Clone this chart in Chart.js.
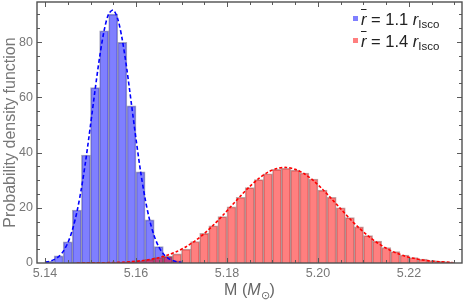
<!DOCTYPE html>
<html><head><meta charset="utf-8">
<script src="https://cdn.jsdelivr.net/npm/chart.js@4/dist/chart.umd.min.js"></script>
<style>
html,body{margin:0;padding:0;background:#fff;}
#wrap{position:relative;width:463px;height:304px;font-family:"Liberation Sans",Arial,sans-serif;}
#c{position:absolute;left:0;top:0;}
.leg{position:absolute;left:361px;font-size:16.5px;color:#222;white-space:nowrap;line-height:16px;}
.sw{position:absolute;left:353px;width:5px;height:5px;}
.ol{text-decoration:overline;}
sub{font-size:11.5px;vertical-align:-3px;line-height:0;}
#xt{position:absolute;left:0;width:499px;text-align:center;top:282px;font-size:16px;color:#666;line-height:16px;}
#xt sub{font-size:11px;vertical-align:-4px;}
</style></head>
<body>
<div id="wrap">
<canvas id="c" width="463" height="304"></canvas>
<div class="sw" style="top:16px;background:rgba(0,0,255,0.5)"></div>
<div class="leg" style="top:11px"><span class="ol"><i>r</i></span> = 1.1 <i>r</i><sub>Isco</sub></div>
<div class="sw" style="top:38px;background:rgba(255,0,0,0.5)"></div>
<div class="leg" style="top:33px"><span class="ol"><i>r</i></span> = 1.4 <i>r</i><sub>Isco</sub></div>
<div id="xt">M (<i>M</i><sub>⊙</sub>)</div>
</div>
<script>
// ---- data ----
const blueBinCenters = [5.141,5.143,5.145,5.147,5.149,5.151,5.153,5.155,5.157,5.159,5.161,5.163,5.165,5.167,5.169];
const blueBinValues  = [0.6,2.6,7.7,19.2,39.1,63.5,84.1,90.1,79.9,56.9,33.0,15.6,5.9,2.3,0.8];

const redBinCenters = [5.147,5.149,5.151,5.153,5.155,5.157,5.159,5.161,5.163,5.165,5.167,5.169,5.171,5.173,5.175,5.177,5.179,5.181,5.183,5.185,5.187,5.189,5.191,5.193,5.195,5.197,5.199,5.201,5.203,5.205,5.207,5.209,5.211,5.213,5.215,5.217,5.219,5.221,5.223,5.225,5.227,5.229];
const redBinValues  = [0.02,0.04,0.06,0.1,0.18,0.3,0.5,0.8,1.3,2.0,2.4,3.3,5.0,7.8,10.7,13.5,16.8,20.3,23.8,27.3,30.2,32.3,33.9,34.3,33.6,32.6,30.4,26.4,23.8,20.0,16.4,13.1,9.9,7.9,5.6,4.1,2.9,2.0,1.4,0.9,0.6,0.3];

const blueCurveX = [5.140,5.141,5.142,5.143,5.144,5.145,5.146,5.147,5.148,5.149,5.150,5.151,5.152,5.153,5.154,5.155,5.156,5.157,5.158,5.159,5.160,5.161,5.162,5.163,5.164,5.165,5.166,5.167,5.168,5.169,5.170];
const blueCurveY = [0.28,0.60,1.21,2.31,4.21,7.24,11.85,18.37,27.0,37.7,49.9,62.6,74.5,84.2,90.2,91.6,88.3,80.7,70.0,57.5,44.9,33.2,23.3,15.5,9.8,5.87,3.33,1.79,0.92,0.45,0.20];

const redCurveX = [5.147,5.149,5.151,5.153,5.155,5.157,5.159,5.161,5.163,5.165,5.167,5.169,5.171,5.173,5.175,5.177,5.179,5.181,5.183,5.185,5.187,5.189,5.191,5.193,5.195,5.197,5.199,5.201,5.203,5.205,5.207,5.209,5.211,5.213,5.215,5.217,5.219,5.221,5.223,5.225,5.227,5.2295];
const redCurveY = [0.01,0.03,0.05,0.09,0.16,0.29,0.48,0.79,1.25,1.93,2.89,4.18,5.89,8.03,10.65,13.7,17.1,20.7,24.3,27.7,30.6,32.9,34.2,34.6,33.9,32.3,29.8,26.7,23.2,19.6,16.0,12.7,9.83,7.34,5.33,3.75,2.56,1.70,1.09,0.68,0.41,0.22];

const xTickLabels = [5.14,5.16,5.18,5.20,5.22];
const yTickLabels = [0,20,40,60,80];

const pts = (xs, ys) => xs.map((x,i)=>({x:x,y:ys[i]}));
const zeroPad = s => { s.paddingTop = 0; s.paddingBottom = 0; s.paddingLeft = 0; s.paddingRight = 0; };

const framePlugin = {
  id:'frame',
  afterDraw(chart){
    const {ctx, chartArea:a, scales:{x,y}} = chart;
    ctx.save();
    ctx.strokeStyle = 'rgb(90,90,90)';
    ctx.lineWidth = 1;
    ctx.beginPath();
    for (let v=5.14; v<=5.2316; v+=0.005){
      const px = Math.round(x.getPixelForValue(v))+0.5;
      const major = Math.abs(Math.round(v*50)-v*50)<1e-6;
      const L = major?5:3;
      ctx.moveTo(px,a.bottom); ctx.lineTo(px,a.bottom-L);
      ctx.moveTo(px,a.top); ctx.lineTo(px,a.top+L);
    }
    for (let v=5; v<=94; v+=5){
      const py = Math.round(y.getPixelForValue(v))+0.5;
      const major = v%20===0;
      const L = major?5:3;
      ctx.moveTo(a.left,py); ctx.lineTo(a.left+L,py);
      ctx.moveTo(a.right,py); ctx.lineTo(a.right-L,py);
    }
    ctx.stroke();
    ctx.lineWidth = 1.4;
    ctx.strokeStyle = 'rgb(80,80,80)';
    ctx.strokeRect(a.left, a.top, a.right-a.left, a.bottom-a.top);
    ctx.restore();
  }
};

new Chart(document.getElementById('c'), {
  type:'bar',
  data:{
    datasets:[
      {type:'line', data:pts(blueCurveX,blueCurveY), borderColor:'#0000ff', borderWidth:1.6, borderDash:[4,2.5], pointRadius:0, tension:0.3, fill:false, order:0},
      {type:'line', data:pts(redCurveX,redCurveY), borderColor:'#ff0000', borderWidth:1.6, borderDash:[3,2], pointRadius:0, tension:0.3, fill:false, order:0},
      {type:'bar', data:pts(redBinCenters,redBinValues), backgroundColor:'rgba(255,0,0,0.5)', borderColor:'rgba(110,60,60,0.45)', borderWidth:1, grouped:false, barPercentage:1, categoryPercentage:1, order:1},
      {type:'bar', data:pts(blueBinCenters,blueBinValues), backgroundColor:'rgba(0,0,255,0.5)', borderColor:'rgba(60,60,110,0.45)', borderWidth:1, grouped:false, barPercentage:1, categoryPercentage:1, order:2}
    ]
  },
  options:{
    responsive:false, animation:false, devicePixelRatio:1,
    layout:{padding:{top:2,right:1,left:0,bottom:0}},
    plugins:{legend:{display:false}, tooltip:{enabled:false}},
    scales:{
      x:{type:'linear', min:5.13824, max:5.23165, offset:false,
         grid:{display:false, drawTicks:false, tickLength:0}, border:{display:false},
         afterBuildTicks:s=>{ s.ticks = xTickLabels.map(v=>({value:v})); },
         afterFit:s=>{ s.height = 41; zeroPad(s); },
         ticks:{callback:v=>Number(v).toFixed(2), color:'#777', font:{family:'"Liberation Sans", Arial, sans-serif', size:12.5}, padding:3, maxRotation:0, autoSkip:false}},
      y:{type:'linear', min:0, max:94.5,
         grid:{display:false, drawTicks:false, tickLength:0}, border:{display:false},
         afterBuildTicks:s=>{ s.ticks = yTickLabels.map(v=>({value:v})); },
         afterFit:s=>{ s.width = 37; zeroPad(s); },
         ticks:{color:'#777', font:{family:'"Liberation Sans", Arial, sans-serif', size:12.5}, padding:4},
         title:{display:true, text:'Probability density function', color:'#777', font:{family:'"Liberation Sans", Arial, sans-serif', size:16}, padding:{top:1,bottom:0}}}
    }
  },
  plugins:[framePlugin]
});
</script>
</body></html>
